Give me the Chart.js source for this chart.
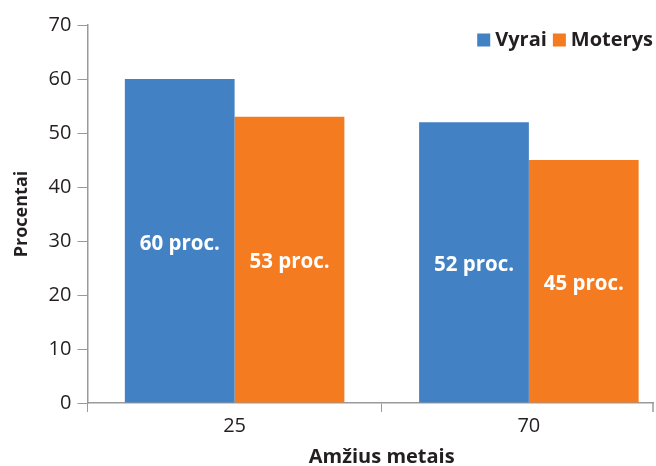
<!DOCTYPE html>
<html>
<head>
<meta charset="utf-8">
<script src="https://cdn.jsdelivr.net/npm/chart.js@4.4.1/dist/chart.umd.min.js"></script>
<style>
  html, body { margin: 0; padding: 0; background: #fff; }
  #wrap { width: 656px; height: 466px; overflow: hidden; }
</style>
</head>
<body>
<!-- the plot runs a little past the visible right edge, as in the source chart -->
<div id="wrap"><canvas id="myChart" width="676" height="466"></canvas></div>
<script>
// chart values
const categories = ['25', '70'];
const seriesNames = ['Vyrai', 'Moterys'];
const vyrai = [60, 52];
const moterys = [53, 45];
const seriesColors = ['#4181c4', '#f47b20'];
const yTicks = [0, 10, 20, 30, 40, 50, 60, 70];

const FONT = "'Open Sans', sans-serif";
const TEXT = '#231f20';
const AXIS = '#9a9a9a';
const AXIS_END = 653; // the x axis line stops here

// white "NN proc." labels in the middle of each bar
const barLabels = {
  id: 'barLabels',
  afterDatasetsDraw(chart) {
    const ctx = chart.ctx;
    ctx.save();
    ctx.fillStyle = '#fff';
    ctx.font = 'bold 20.5px ' + FONT;
    ctx.textAlign = 'center';
    ctx.textBaseline = 'middle';
    chart.data.datasets.forEach((ds, i) => {
      chart.getDatasetMeta(i).data.forEach((bar, j) => {
        const mid = (bar.y + bar.base) / 2;
        ctx.fillText(ds.data[j] + ' proc.', bar.x, mid + 3);
      });
    });
    ctx.restore();
  }
};

// trim the x axis line and close it with a tick, then the legend in the top right corner
const cornerLegend = {
  id: 'cornerLegend',
  afterDraw(chart) {
    const ctx = chart.ctx;
    const area = chart.chartArea;
    const axisY = chart.scales.x.top;
    ctx.save();
    ctx.fillStyle = '#fff';
    ctx.fillRect(AXIS_END + 1, axisY - 2, chart.width, 14);
    ctx.strokeStyle = AXIS;
    ctx.lineWidth = 1.5;
    ctx.beginPath();
    ctx.moveTo(AXIS_END, axisY);
    ctx.lineTo(AXIS_END, axisY + 9);
    ctx.stroke();

    const box = 13;
    ctx.font = 'bold 20px ' + FONT;
    ctx.textBaseline = 'middle';
    ctx.textAlign = 'left';
    let x = AXIS_END;
    const y = area.top + 15;
    for (let i = chart.data.datasets.length - 1; i >= 0; i--) {
      const ds = chart.data.datasets[i];
      const w = ctx.measureText(ds.label).width;
      x -= w;
      ctx.fillStyle = TEXT;
      ctx.fillText(ds.label, x, y);
      x -= 5 + box;
      ctx.fillStyle = ds.backgroundColor;
      ctx.fillRect(x, y - box / 2, box, box);
      x -= 6;
    }
    ctx.restore();
  }
};

const canvas = document.getElementById('myChart');
const ctx = canvas.getContext('2d');

new Chart(ctx, {
  type: 'bar',
  data: {
    labels: categories,
    datasets: [
      { label: seriesNames[0], data: vyrai, backgroundColor: seriesColors[0] },
      { label: seriesNames[1], data: moterys, backgroundColor: seriesColors[1] }
    ]
  },
  options: {
    responsive: false,
    animation: false,
    devicePixelRatio: 1,
    layout: { padding: { top: 25, right: 0, left: 11, bottom: 0 } },
    datasets: {
      bar: { barPercentage: 1, categoryPercentage: 0.746 }
    },
    plugins: {
      tooltip: { enabled: false },
      legend: { display: false }
    },
    scales: {
      x: {
        offset: true,
        grid: {
          offset: true,
          drawOnChartArea: false,
          drawTicks: true,
          tickLength: 9,
          color: AXIS
        },
        border: { color: AXIS, width: 1.5 },
        ticks: { color: TEXT, font: { family: FONT, size: 20 }, padding: 2 },
        title: {
          display: true,
          text: 'Amžius metais',
          color: TEXT,
          font: { family: FONT, size: 20, weight: 'bold' },
          padding: { top: 5, bottom: -3 }
        }
      },
      y: {
        min: 0,
        max: 70,
        afterBuildTicks(axis) { axis.ticks = yTicks.map(v => ({ value: v })); },
        grid: {
          drawOnChartArea: false,
          drawTicks: true,
          tickLength: 10,
          color: AXIS
        },
        border: { color: AXIS, width: 1.5 },
        ticks: { color: TEXT, font: { family: FONT, size: 20 }, padding: 6 },
        title: {
          display: true,
          text: 'Procentai',
          color: TEXT,
          font: { family: FONT, size: 18, weight: 'bold' },
          padding: { top: 0, bottom: 10 }
        }
      }
    }
  },
  plugins: [barLabels, cornerLegend]
});
</script>
</body>
</html>
